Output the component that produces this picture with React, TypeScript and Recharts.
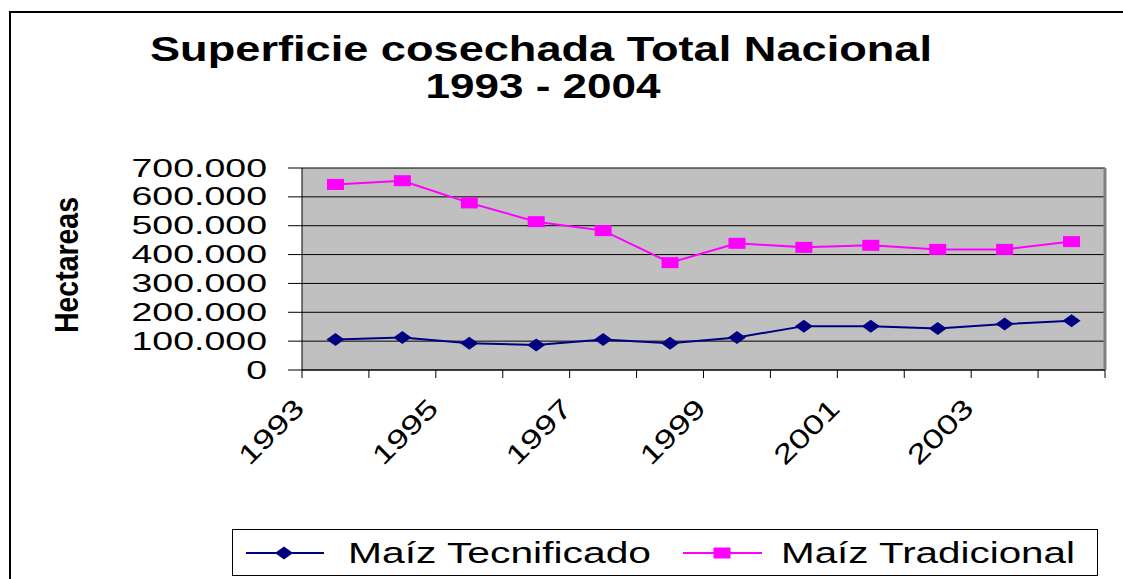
import { LineChart, Line, XAxis, YAxis, CartesianGrid, ReferenceLine } from 'recharts';

const years = [1993, 1994, 1995, 1996, 1997, 1998, 1999, 2000, 2001, 2002, 2003, 2004];
const tecnificado = [106000, 113000, 93000, 87000, 106000, 93000, 113000, 152000, 152000, 144000, 159000, 171000];
const tradicional = [643000, 656000, 579000, 514000, 483000, 372000, 439000, 425000, 432000, 418000, 418000, 445000];
const yTicks = [0, 100000, 200000, 300000, 400000, 500000, 600000, 700000];
const xLabels = [1993, 1995, 1997, 1999, 2001, 2003];
const seriesNames = ['Maíz Tecnificado', 'Maíz Tradicional'];

const FONT = '"Liberation Sans", Arial, sans-serif';
const NAVY = '#000080';
const MAGENTA = '#FF00FF';

const chartData = years.map((year, i) => ({
  year,
  tecnificado: tecnificado[i],
  tradicional: tradicional[i]
}));

// tick marks sit between categories, like the original spreadsheet chart
const boundaries = [...years.map((y) => y - 0.5), years[years.length - 1] + 0.5];

const fmt = (v: number) => (v === 0 ? '0' : `${v / 1000}.000`);

const YTick = ({ x, y, payload }: any) => (
  <text
    transform={`translate(${x},${y}) scale(1.5,1)`}
    textAnchor="end"
    dominantBaseline="central"
    fontSize={25}
    fontFamily={FONT}
    fill="#000"
  >
    {fmt(payload.value)}
  </text>
);

const XTick = ({ x, y, payload }: any) => {
  const year = payload.value + 0.5;
  if (!xLabels.includes(year)) return <g />;
  return (
    <text
      transform={`translate(${x + 4},${y + 30}) rotate(-45)`}
      textAnchor="end"
      fontSize={27}
      fontFamily={FONT}
      fill="#000"
      textLength={80}
      lengthAdjust="spacingAndGlyphs"
    >
      {year}
    </text>
  );
};

const Diamond = ({ cx, cy }: any) => (
  <polygon
    points={`${cx - 9},${cy} ${cx},${cy - 6.5} ${cx + 9},${cy} ${cx},${cy + 6.5}`}
    fill={NAVY}
  />
);

const Square = ({ cx, cy }: any) => (
  <rect x={cx - 8.5} y={cy - 5.5} width={17} height={11} fill={MAGENTA} />
);

export default function App() {
  return (
    <div
      style={{
        position: 'absolute',
        left: 0,
        top: 0,
        width: 1123,
        height: 579,
        overflow: 'hidden',
        background: '#fff'
      }}
    >
      {/* outer chart frame */}
      <div
        style={{
          position: 'absolute',
          left: 9,
          top: 11,
          width: 1200,
          height: 700,
          borderTop: '2px solid #000',
          borderLeft: '2px solid #000'
        }}
      />
      <div style={{ position: 'absolute', left: 0, top: 0 }}>
        <LineChart
          width={1123}
          height={579}
          data={chartData}
          margin={{ top: 168, right: 18, left: 0, bottom: 149 }}
        >
          <CartesianGrid vertical={false} stroke="#000" fill="#C0C0C0" fillOpacity={1} />
          <XAxis
            dataKey="year"
            type="number"
            domain={[1992.5, 2004.5]}
            ticks={boundaries}
            interval={0}
            height={60}
            stroke="#000"
            tickSize={8}
            tickMargin={2}
            tick={<XTick />}
          />
          <YAxis
            width={302}
            domain={[0, 700000]}
            ticks={yTicks}
            interval={0}
            stroke="#000"
            tickSize={14}
            tickMargin={21}
            tick={<YTick />}
          />
          <ReferenceLine x={2004.5} stroke="#808080" strokeWidth={3} />
          <Line
            dataKey="tecnificado"
            name={seriesNames[0]}
            stroke={NAVY}
            strokeWidth={2}
            dot={<Diamond />}
            isAnimationActive={false}
          />
          <Line
            dataKey="tradicional"
            name={seriesNames[1]}
            stroke={MAGENTA}
            strokeWidth={2}
            dot={<Square />}
            isAnimationActive={false}
          />
        </LineChart>
      </div>

      {/* title and axis name */}
      <svg
        width={1123}
        height={579}
        style={{ position: 'absolute', left: 0, top: 0, pointerEvents: 'none' }}
      >
        <text
          x={541}
          y={61}
          textAnchor="middle"
          fontSize={35}
          fontWeight="bold"
          fontFamily={FONT}
          textLength={782}
          lengthAdjust="spacingAndGlyphs"
        >
          Superficie cosechada Total Nacional
        </text>
        <text
          x={543}
          y={98}
          textAnchor="middle"
          fontSize={35}
          fontWeight="bold"
          fontFamily={FONT}
          textLength={235}
          lengthAdjust="spacingAndGlyphs"
        >
          1993 - 2004
        </text>
        <text
          transform="translate(78,265) rotate(-90)"
          textAnchor="middle"
          fontSize={33}
          fontWeight="bold"
          fontFamily={FONT}
          textLength={136}
          lengthAdjust="spacingAndGlyphs"
        >
          Hectareas
        </text>
      </svg>

      {/* legend */}
      <div
        style={{
          position: 'absolute',
          left: 232,
          top: 529,
          width: 866,
          height: 47,
          border: '1px solid #000',
          boxSizing: 'border-box',
          background: '#fff'
        }}
      >
        <svg width={864} height={45}>
          <line x1={13} y1={23} x2={91} y2={23} stroke={NAVY} strokeWidth={2} />
          <Diamond cx={51} cy={23} />
          <text
            x={115}
            y={33}
            fontSize={29}
            fontFamily={FONT}
            textLength={303}
            lengthAdjust="spacingAndGlyphs"
          >
            {seriesNames[0]}
          </text>
          <line x1={450} y1={23} x2={529} y2={23} stroke={MAGENTA} strokeWidth={2} />
          <Square cx={489} cy={23} />
          <text
            x={548}
            y={33}
            fontSize={29}
            fontFamily={FONT}
            textLength={294}
            lengthAdjust="spacingAndGlyphs"
          >
            {seriesNames[1]}
          </text>
        </svg>
      </div>
    </div>
  );
}
